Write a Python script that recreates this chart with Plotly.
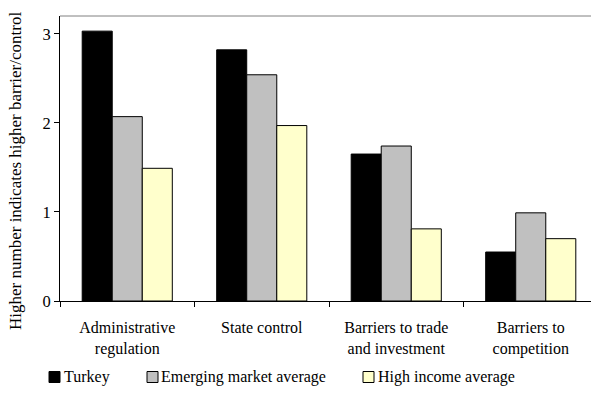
import plotly.graph_objects as go

categories = ["Administrative<br>regulation", "State control",
              "Barriers to trade<br>and investment", "Barriers to<br>competition"]
series_names = ["Turkey", "Emerging market average", "High income average"]
turkey = [3.03, 2.82, 1.65, 0.55]
emerging = [2.07, 2.54, 1.74, 0.99]
high_income = [1.49, 1.97, 0.81, 0.70]
y_ticks = [0, 1, 2, 3]

colors = ["#000000", "#C0C0C0", "#FFFFCC"]
FONT = "Liberation Serif, Times New Roman, serif"

W, H = 591, 398
L, R, T, B = 60, 0, 16, 97
pw, ph = W - L - R, H - T - B

def px_x(x):
    return (x - L) / pw

def px_y(y):
    return (H - B - y) / ph

fig = go.Figure()
for name, vals, col in zip(series_names, [turkey, emerging, high_income], colors):
    fig.add_trace(go.Bar(x=categories, y=vals, name=name,
                         marker=dict(color=col, line=dict(color="#000000", width=1)),
                         showlegend=False))

fig.update_layout(
    width=W, height=H,
    margin=dict(l=L, r=R, t=T, b=B),
    paper_bgcolor="white", plot_bgcolor="white",
    barmode="group", bargap=0.33, bargroupgap=0,
    font=dict(family=FONT, size=16, color="black"),
    xaxis=dict(range=[-0.5, -0.5 + pw / 134.5], showline=True, linecolor="black",
               linewidth=1, ticks="outside", ticklen=5, tickcolor="black",
               tickson="boundaries", showgrid=False, tickfont=dict(size=16),
               ticklabelstandoff=12),
    yaxis=dict(range=[0, 3.2], tickvals=y_ticks, showline=True, linecolor="black",
               linewidth=1, ticks="outside", ticklen=5, tickcolor="black",
               showgrid=False, zeroline=False, tickfont=dict(size=16.5)),
)

# top border
fig.add_shape(type="line", xref="paper", yref="paper", x0=0, x1=1, y0=1, y1=1,
              line=dict(color="#808080", width=1))

# y-axis title
fig.add_annotation(text="Higher number indicates higher barrier/control",
                   xref="paper", yref="paper", x=px_x(15), y=px_y(171),
                   textangle=-90, showarrow=False, xanchor="center", yanchor="middle",
                   font=dict(family=FONT, size=17))

# manual legend
legend_pos = [(49, 62), (147, 159), (363, 376)]
for (sx, tx), name, col in zip(legend_pos, series_names, colors):
    fig.add_shape(type="rect", xref="paper", yref="paper",
                  x0=px_x(sx), x1=px_x(sx + 11), y0=px_y(371.5), y1=px_y(382.5),
                  fillcolor=col, line=dict(color="black", width=1))
    fig.add_annotation(text=name, xref="paper", yref="paper", x=px_x(tx), y=px_y(377),
                       showarrow=False, xanchor="left", yanchor="middle",
                       font=dict(family=FONT, size=16))

fig.write_html("out.html")
